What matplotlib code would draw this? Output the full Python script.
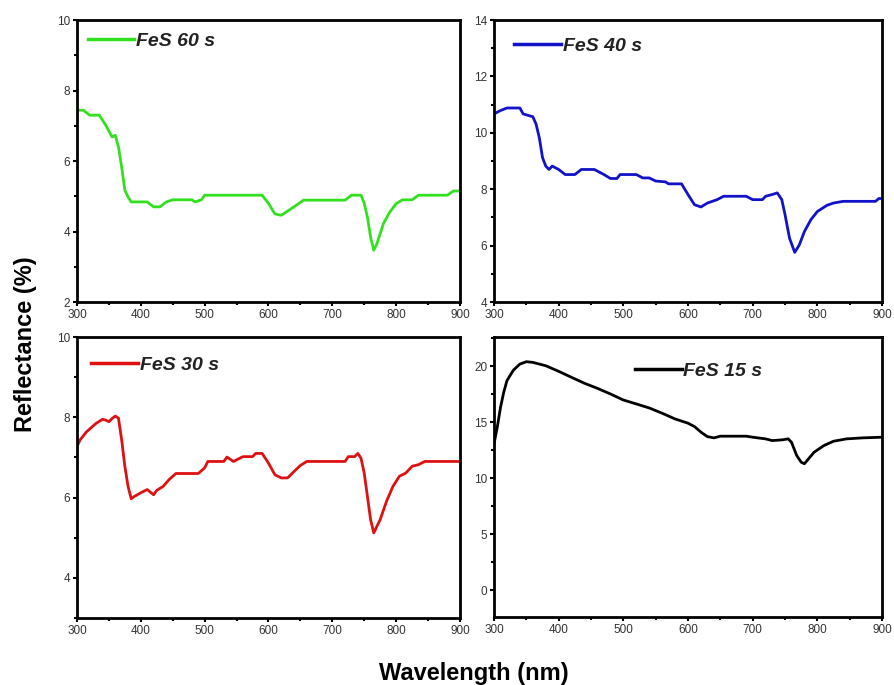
import numpy as np
import matplotlib
matplotlib.use('Agg')
import matplotlib.pyplot as plt
from matplotlib.ticker import MultipleLocator

plt.rcParams['font.family'] = ['Liberation Sans', 'DejaVu Sans']

# FeS 60 s
wl_60 = [300, 310, 320, 335, 345, 355, 360, 365, 370, 375, 380, 385, 400, 410, 420, 430,
         440, 450, 480, 485, 495, 500, 590, 600, 610, 620, 640, 655, 720, 730, 745, 750,
         755, 760, 765, 770, 780, 790, 800, 810, 825, 835, 880, 890, 900]
r_60 = [7.44, 7.44, 7.3, 7.3, 7.02, 6.68, 6.73, 6.4, 5.83, 5.17, 4.98, 4.84, 4.84, 4.84, 4.7, 4.7,
        4.84, 4.9, 4.9, 4.84, 4.9, 5.03, 5.03, 4.8, 4.5, 4.46, 4.7, 4.89, 4.89, 5.03, 5.03, 4.8,
        4.41, 3.84, 3.47, 3.66, 4.22, 4.55, 4.79, 4.9, 4.9, 5.03, 5.03, 5.15, 5.15]

# FeS 40 s
wl_40 = [300, 310, 320, 340, 345, 360, 365, 370, 375, 380, 385, 390, 400, 410, 425, 435,
         455, 470, 480, 490, 495, 520, 530, 540, 550, 565, 570, 590, 600, 610, 620, 630,
         645, 655, 690, 700, 715, 720, 730, 738, 745, 750, 757, 765, 772, 780, 790, 800,
         815, 825, 840, 890, 895, 900]
r_40 = [10.67, 10.79, 10.88, 10.88, 10.67, 10.57, 10.31, 9.83, 9.12, 8.82, 8.7, 8.82, 8.7, 8.52, 8.52, 8.7,
        8.7, 8.52, 8.38, 8.38, 8.52, 8.52, 8.4, 8.4, 8.29, 8.26, 8.19, 8.19, 7.81, 7.45, 7.37, 7.51,
        7.63, 7.75, 7.75, 7.63, 7.63, 7.75, 7.81, 7.87, 7.63, 7.1, 6.26, 5.76, 6.02, 6.5, 6.92, 7.21,
        7.43, 7.51, 7.57, 7.57, 7.67, 7.67]

# FeS 30 s
wl_30 = [300, 305, 315, 330, 340, 345, 350, 355, 360, 365, 370, 375, 380, 385, 390, 400,
         410, 420, 425, 435, 445, 455, 490, 500, 505, 530, 535, 545, 555, 560, 575, 580,
         590, 600, 610, 620, 630, 640, 650, 660, 720, 725, 735, 740, 745, 750, 755, 760,
         765, 770, 775, 785, 795, 805, 815, 825, 835, 845, 900]
r_30 = [7.27, 7.44, 7.64, 7.85, 7.95, 7.93, 7.89, 7.97, 8.03, 7.98, 7.44, 6.78, 6.28, 5.97, 6.03, 6.12,
        6.2, 6.07, 6.18, 6.28, 6.46, 6.6, 6.6, 6.74, 6.9, 6.9, 7.01, 6.9, 6.98, 7.02, 7.02, 7.1,
        7.1, 6.86, 6.57, 6.49, 6.49, 6.65, 6.8, 6.9, 6.9, 7.02, 7.02, 7.1, 6.98, 6.61, 6.03, 5.45,
        5.12, 5.29, 5.45, 5.91, 6.28, 6.53, 6.61, 6.78, 6.82, 6.9, 6.9]

# FeS 15 s
wl_15 = [300, 305, 310, 315, 320, 330, 340, 350, 360, 380, 400, 420, 440, 460, 480, 500,
         520, 540, 560, 580, 600, 610, 620, 630, 640, 650, 690, 700, 720, 730, 745, 755,
         760, 768, 775, 780, 785, 795, 810, 825, 845, 870, 900]
r_15 = [13.06, 14.54, 16.3, 17.66, 18.7, 19.64, 20.18, 20.39, 20.33, 20.03, 19.53, 18.99, 18.46, 18.01, 17.51, 16.97,
        16.62, 16.26, 15.79, 15.28, 14.9, 14.6, 14.1, 13.7, 13.59, 13.74, 13.74, 13.65, 13.5, 13.35, 13.41, 13.5,
        13.2, 12.02, 11.42, 11.28, 11.63, 12.31, 12.9, 13.29, 13.5, 13.59, 13.65]

fig = plt.figure(figsize=(8.94, 6.85), dpi=100)

panels = [
    # rect, x, y, colour, label, ylim, major, minor, legend anchor
    ([0.0861, 0.5591, 0.4284, 0.4117], wl_60, r_60, '#33e01f', 'FeS 60 s', (2, 10), 2, 1, (0.028, 0.955)),
    ([0.5526, 0.5591, 0.4340, 0.4117], wl_40, r_40, '#1212c8', 'FeS 40 s', (4, 14), 2, 1, (0.052, 0.94)),
    ([0.0861, 0.0978, 0.4284, 0.4102], wl_30, r_30, '#dd1111', 'FeS 30 s', (3, 10), 2, 1, (0.037, 0.93)),
    ([0.5526, 0.0993, 0.4340, 0.4088], wl_15, r_15, '#000000', 'FeS 15 s', (-2.4, 22.6), 5, 2.5, (0.363, 0.91)),
]

for rect, x, y, col, lab, ylim, maj, mnr, anchor in panels:
    ax = fig.add_axes(rect)
    ax.plot(x, y, color=col, lw=2.0, label=lab)
    ax.set_xlim(300, 900)
    ax.set_ylim(*ylim)
    ax.xaxis.set_major_locator(MultipleLocator(100))
    ax.xaxis.set_minor_locator(MultipleLocator(50))
    ax.yaxis.set_major_locator(MultipleLocator(maj))
    ax.yaxis.set_minor_locator(MultipleLocator(mnr))
    for s in ax.spines.values():
        s.set_linewidth(2.0)
    ax.tick_params(which='major', direction='out', length=3, width=1.5,
                   labelsize=8.5, labelcolor='#333333', pad=2)
    ax.tick_params(which='minor', direction='out', length=2, width=1.5)
    leg = ax.legend(loc='upper left', bbox_to_anchor=anchor, frameon=False,
                    handlelength=2.4, handletextpad=0.1, borderpad=0, borderaxespad=0,
                    prop={'size': 14, 'weight': 'bold', 'style': 'italic'})
    for t in leg.get_texts():
        t.set_color('#222222')
    for h in leg.get_lines():
        h.set_linewidth(2.5)

fig.text(0.028, 0.498, 'Reflectance (%)', rotation=90, ha='center', va='center',
         fontsize=17, fontweight='bold')
fig.text(0.530, 0.0175, 'Wavelength (nm)', ha='center', va='center',
         fontsize=17, fontweight='bold')

plt.savefig('out.png', dpi=100)
